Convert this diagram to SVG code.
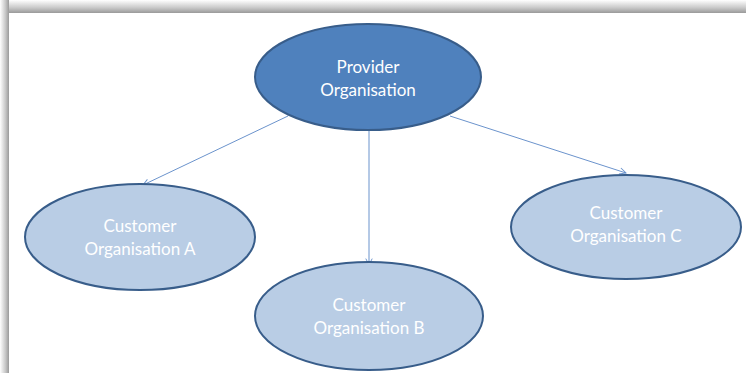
<svg xmlns="http://www.w3.org/2000/svg" width="746" height="373" viewBox="0 0 746 373">
  <defs>
    <linearGradient id="shadeTop" x1="0" y1="0" x2="0" y2="1">
      <stop offset="0" stop-color="#ffffff"/>
      <stop offset="0.6" stop-color="#c8c8c8"/>
      <stop offset="1" stop-color="#9a9a9a"/>
    </linearGradient>
    <linearGradient id="shadeLeft" x1="0" y1="0" x2="1" y2="0">
      <stop offset="0" stop-color="#ffffff"/>
      <stop offset="0.6" stop-color="#c8c8c8"/>
      <stop offset="1" stop-color="#9a9a9a"/>
    </linearGradient>
    <marker id="arrow" viewBox="0 0 10 10" refX="9" refY="5" markerWidth="8" markerHeight="8" orient="auto" markerUnits="userSpaceOnUse">
      <path d="M1,1 L9,5 L1,9" fill="none" stroke="#6b93cc" stroke-width="1.2"/>
    </marker>
  </defs>
  <style>
    .provider { fill: #4f81bd; stroke: #385d8a; stroke-width: 2; }
    .customer { fill: #b9cde5; stroke: #385d8a; stroke-width: 2; }
    .label { font-family: Lato, "Open Sans", sans-serif; font-size: 17px; fill: #ffffff; text-anchor: middle; }
    .edge { stroke: #6b93cc; stroke-width: 1; fill: none; marker-end: url(#arrow); }
  </style>

  <!-- page with soft shadow along the top and left -->
  <rect x="0" y="0" width="746" height="373" fill="#ffffff"/>
  <rect x="0" y="0" width="746" height="13" fill="url(#shadeTop)"/>
  <rect x="0" y="0" width="9" height="373" fill="url(#shadeLeft)"/>
  <rect x="9" y="13" width="737" height="360" fill="#ffffff"/>

  <g id="connectors">
    <line class="edge" x1="288" y1="116" x2="143" y2="185"/>
    <line class="edge" x1="369" y1="130" x2="369" y2="265"/>
    <line class="edge" x1="450" y1="116" x2="626" y2="173"/>
  </g>

  <g id="provider">
    <ellipse class="provider" cx="368" cy="77" rx="113" ry="53"/>
    <text class="label" x="368" y="73">Provider</text>
    <text class="label" x="368" y="96">Organisation</text>
  </g>

  <g id="customer-a">
    <ellipse class="customer" cx="140" cy="237" rx="115" ry="53"/>
    <text class="label" x="140" y="232">Customer</text>
    <text class="label" x="140" y="255">Organisation A</text>
  </g>

  <g id="customer-b">
    <ellipse class="customer" cx="369" cy="316" rx="114" ry="54"/>
    <text class="label" x="369" y="311">Customer</text>
    <text class="label" x="369" y="334">Organisation B</text>
  </g>

  <g id="customer-c">
    <ellipse class="customer" cx="626" cy="227" rx="115" ry="52"/>
    <text class="label" x="626" y="219">Customer</text>
    <text class="label" x="626" y="242">Organisation C</text>
  </g>
</svg>
